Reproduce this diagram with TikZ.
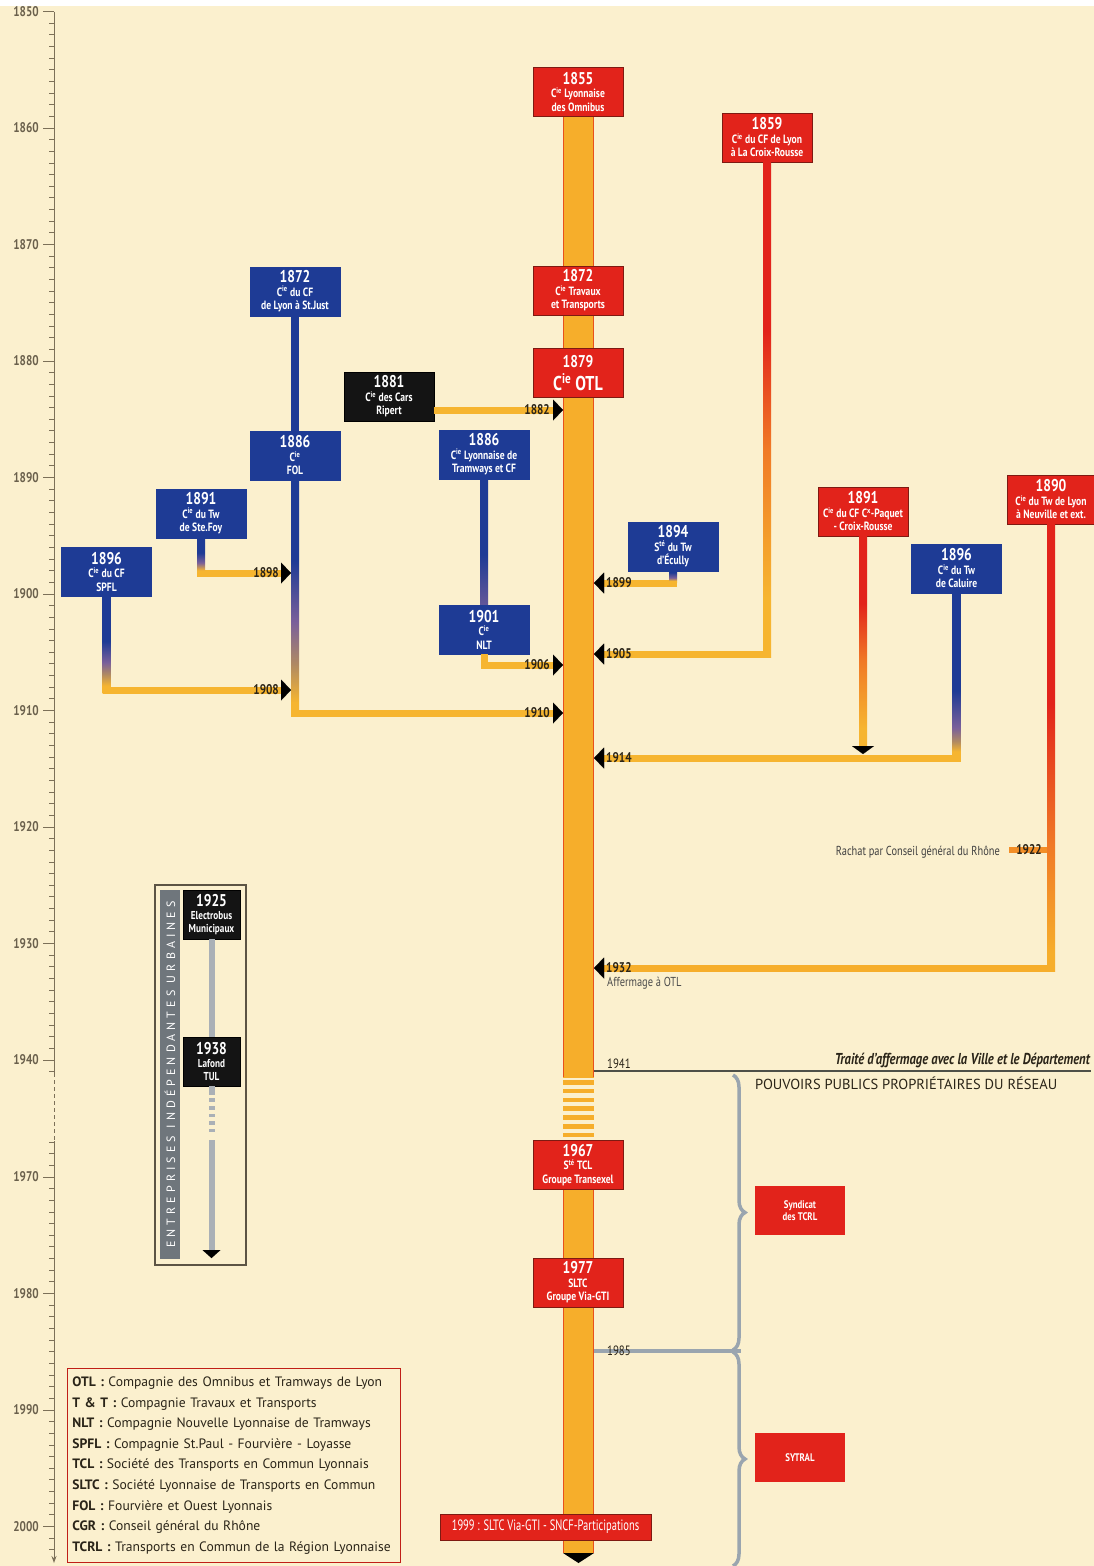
\documentclass[tikz,border=0pt]{standalone}
\usepackage{fontspec}
\setmainfont{PT Sans}[FakeStretch=0.8]
\newfontfamily\legfont{PT Sans}
\newfontfamily\narrowfont{PT Sans}[FakeStretch=0.7]
\usetikzlibrary{arrows.meta,decorations.pathreplacing,calc}
\definecolor{bg}{HTML}{FBF0CE}
\definecolor{cred}{HTML}{E2231B}
\definecolor{credge}{HTML}{7E1A12}
\definecolor{cblue}{HTML}{1E3B95}
\definecolor{cyel}{HTML}{F6B530}
\definecolor{corange}{HTML}{F6AE2B}
\definecolor{cmid}{HTML}{F07A26}
\definecolor{cbarline}{HTML}{E8501C}
\definecolor{cmauve}{HTML}{7A609A}
\definecolor{cbrown}{HTML}{B08A62}
\definecolor{cgray}{HTML}{9AA5AF}
\definecolor{cgrayl}{HTML}{AAB0B6}
\definecolor{cstrip}{HTML}{6F767C}
\definecolor{axisc}{HTML}{7C7058}
\definecolor{axtxt}{HTML}{6A604C}
\definecolor{ink}{HTML}{2A2418}
\definecolor{panelc}{HTML}{5C5444}
\definecolor{rulec}{HTML}{4E5048}
% vertical shadings: path box maps to 25bp (bottom) .. 75bp (top)
\pgfdeclareverticalshading{shfol}{100bp}{color(0bp)=(cyel); color(28bp)=(cyel); color(36bp)=(cbrown); color(45bp)=(cmauve); color(58bp)=(cblue); color(100bp)=(cblue)}
\pgfdeclareverticalshading{shspfl}{100bp}{color(0bp)=(cyel); color(29bp)=(cyel); color(35bp)=(cbrown); color(41bp)=(cmauve); color(52bp)=(cblue); color(100bp)=(cblue)}
\pgfdeclareverticalshading{shcal}{100bp}{color(0bp)=(cyel); color(28bp)=(cyel); color(31bp)=(cbrown); color(35bp)=(cmauve); color(46bp)=(cblue); color(100bp)=(cblue)}
\pgfdeclareverticalshading{shsf}{100bp}{color(0bp)=(cyel); color(33bp)=(cyel); color(43bp)=(cmauve); color(56bp)=(cblue); color(100bp)=(cblue)}
\pgfdeclareverticalshading{shec}{100bp}{color(0bp)=(cyel); color(30bp)=(cyel); color(45bp)=(cmauve); color(70bp)=(cblue); color(100bp)=(cblue)}
\pgfdeclareverticalshading{shcr}{100bp}{color(0bp)=(cyel); color(31bp)=(cyel); color(46bp)=(cmid); color(58bp)=(cred); color(100bp)=(cred)}
\pgfdeclareverticalshading{shcp}{100bp}{color(0bp)=(cyel); color(29bp)=(cyel); color(45bp)=(cmid); color(59bp)=(cred); color(100bp)=(cred)}
\pgfdeclareverticalshading{shne}{100bp}{color(0bp)=(corange); color(27bp)=(corange); color(39bp)=(cmid); color(55bp)=(cred); color(100bp)=(cred)}
\pgfdeclareverticalshading{shnlt}{100bp}{color(0bp)=(cmauve!70!white); color(25bp)=(cmauve!75!cblue); color(45bp)=(cblue); color(100bp)=(cblue)}
\newcommand{\cie}{C\textsuperscript{ie}}
\newcommand{\yr}[1]{{\fontsize{17}{17}\selectfont\bfseries #1}\\}
\begin{document}
\begin{tikzpicture}[x=1pt,y=-1pt,
  box/.style={minimum width=90pt,minimum height=49pt,inner sep=1pt,align=center,text=white,font=\fontsize{12}{13.5}\selectfont\bfseries,line width=0.8pt},
  rbox/.style={box,fill=cred,draw=credge},
  bbox/.style={box,fill=cblue,draw=cblue},
  kbox/.style={box,fill=black!92,draw=black},
  hconn/.style={line width=7pt,cyel},
  tip/.style={-{Triangle[length=10pt,width=21pt,line width=0.01pt,color=black,fill=black]}},
  lbl/.style={font=\fontsize{14}{14}\selectfont\bfseries,text=ink,inner sep=1pt},
  axlbl/.style={font=\fontsize{14}{14}\selectfont\bfseries,text=axtxt,inner sep=0pt},
  axtick/.style={axisc,line width=0.9pt},
]
\fill[white] (0,0) rectangle (1094,1566);
\fill[bg] (0,6) rectangle (1094,1566);
\useasboundingbox (0,0) rectangle (1094,1566);

% ---------- axis ----------
\draw[axisc,line width=1pt] (54,11.5) -- (54,1073);
\draw[axisc,line width=1pt,dash pattern=on 4pt off 3pt] (54,1073) -- (54,1141);
\draw[axisc,line width=1pt,-{Stealth[length=7pt,width=5pt]}] (54,1141) -- (54,1563);
\foreach \a in {1850,...,1941}{\pgfmathsetmacro\yy{11.5+11.65*(\a-1850)}\draw[axtick] (49,\yy) -- (54,\yy);}
\foreach \a in {1967,...,2002}{\pgfmathsetmacro\yy{1177+11.65*(\a-1970)}\draw[axtick] (49,\yy) -- (54,\yy);}
\foreach \a in {1850,1860,...,1940}{\pgfmathsetmacro\yy{11.5+11.65*(\a-1850)}
  \draw[axtick] (43,\yy) -- (54,\yy); \node[axlbl,anchor=east] (ax\a) at (39,\yy) {\a};}
\foreach \a in {1970,1980,1990,2000}{\pgfmathsetmacro\yy{1177+11.65*(\a-1970)}
  \draw[axtick] (43,\yy) -- (54,\yy); \node[axlbl,anchor=east] (ax\a) at (39,\yy) {\a};}

% ---------- main bar ----------
\coordinate (barL) at (563,0);
\coordinate (barR) at (594,0);
\fill[corange] (563,117) rectangle (594,1553);
\draw[cbarline,line width=1pt] (563.5,117) -- (563.5,1077) (593.5,117) -- (593.5,1077);
\draw[cbarline,line width=1pt] (563.5,1141) -- (563.5,1553) (593.5,1141) -- (593.5,1553);
\fill[bg] (562,1078) rectangle (595,1141);
\foreach \k in {0,...,6}{\fill[corange] (563,1080+8.8*\k) rectangle (594,1084.5+8.8*\k);}
\fill[black] (563,1553) -- (594,1553) -- (578.5,1563) -- cycle;

% ---------- boxes ----------
\node[rbox] (b1855) at (578,92) {\yr{1855}\cie{} Lyonnaise\\des Omnibus};
\node[rbox] (b1859) at (767,137.5) {\yr{1859}\cie{} du CF de Lyon\\à La Croix-Rousse};
\node[rbox] (b1872tt) at (578,290.5) {\yr{1872}\cie{} Travaux\\et Transports};
\node[rbox] (b1879) at (578,373) {{\fontsize{17}{17}\selectfont\bfseries 1879}\\[5pt]{\fontsize{20}{21}\selectfont\cie{} OTL}};
\node[bbox] (b1872sj) at (295,291.5) {\yr{1872}\cie{} du CF\\de Lyon à St.Just};
\node[kbox] (b1881) at (389,396.5) {\yr{1881}\cie{} des Cars\\Ripert};
\node[bbox] (b1886fol) at (295,455.5) {\yr{1886}\cie{}\\FOL};
\node[bbox] (b1886cl) at (484,454.5) {\yr{1886}\cie{} Lyonnaise de\\Tramways et CF};
\node[bbox] (b1891sf) at (201,513.5) {\yr{1891}\cie{} du Tw\\de Ste.Foy};
\node[bbox] (b1896sp) at (106.5,572) {\yr{1896}\cie{} du CF\\SPFL};
\node[bbox] (b1894ec) at (673,546.5) {\yr{1894}S\textsuperscript{té} du Tw\\d’Écully};
\node[bbox] (b1901) at (484,629.5) {\yr{1901}\cie{}\\NLT};
\node[rbox] (b1891cp) at (863,511.5) {\yr{1891}\cie{} du CF C\textsuperscript{x}-Paquet\\- Croix-Rousse};
\node[bbox] (b1896ca) at (956.5,568.5) {\yr{1896}\cie{} du Tw\\de Caluire};
\node[rbox,minimum width=88pt] (b1890ne) at (1051,499.5) {\yr{1890}\cie{} du Tw de Lyon\\à Neuville et ext.};
\node[rbox] (b1967) at (578,1165) {\yr{1967}S\textsuperscript{té} TCL\\Groupe Transexel};
\node[rbox] (b1977) at (578,1282.5) {\yr{1977}SLTC\\Groupe Via-GTI};
\node[rbox,minimum width=211pt,minimum height=26pt,font=\narrowfont\fontsize{15}{16}\selectfont] (b1999) at (545.5,1527) {1999 : SLTC Via-GTI - SNCF-Participations};
\node[box,fill=cred,font=\fontsize{11}{12.5}\selectfont\bfseries] (syn) at (800,1210.5) {Syndicat\\des TCRL};
\node[box,fill=cred,font=\fontsize{11}{12.5}\selectfont\bfseries] (sytral) at (800,1457.5) {SYTRAL};

% ---------- connectors, left side ----------
% St.Just -> FOL
\fill[cblue] ($(b1872sj.south)+(-4,0)$) rectangle ($(b1886fol.north)+(4,0)$);
% FOL -> 1910
\coordinate (c1910) at (b1886fol.south |- 0,713);
\shade[shading=shfol] ($(b1886fol.south)+(-4,0)$) rectangle ($(c1910)+(4,3.5)$);
\draw[hconn,tip] ($(c1910)+(4,0)$) -- (barL |- c1910);
% Ste.Foy -> FOL (1898)
\coordinate (c1898) at (b1891sf.south |- 0,573);
\draw[hconn,tip] ($(c1898)+(-3.5,0)$) -- ($(b1886fol.south |- c1898)+(-4,0)$);
\shade[shading=shsf] ($(b1891sf.south)+(-4,0)$) rectangle ($(c1898)+(4,3.5)$);
% SPFL -> FOL (1908)
\coordinate (c1908) at (b1896sp.south |- 0,690);
\draw[hconn,tip] ($(c1908)+(-3.5,0)$) -- ($(b1886fol.south |- c1908)+(-4,0)$);
\shade[shading=shspfl] ($(b1896sp.south)+(-4,0)$) rectangle ($(c1908)+(4,3.5)$);
% Ripert -> bar (1882)
\draw[hconn,tip] (b1881.east |- 0,410) -- (barL |- 0,410);
% CLTCF -> NLT
\shade[shading=shnlt] ($(b1886cl.south)+(-4,0)$) rectangle ($(b1901.north)+(4,0)$);
% NLT -> bar (1906)
\draw[hconn,tip] (b1901.south) |- (barL |- 0,665);

% ---------- connectors, right side ----------
% 1859 -> bar (1905)
\coordinate (c1905) at (b1859.south |- 0,654);
\shade[shading=shcr] ($(b1859.south)+(-4,0)$) rectangle ($(c1905)+(4,3.5)$);
\draw[hconn,tip] ($(c1905)+(4,0)$) -- (barR |- c1905);
% Ecully -> bar (1899)
\coordinate (c1899) at (b1894ec.south |- 0,583);
\draw[hconn,tip] ($(c1899)+(3.5,0)$) -- (barR |- c1899);
\shade[shading=shec] ($(b1894ec.south)+(-4,0)$) rectangle ($(c1899)+(4,-1)$);
% Paquet -> 1914 line
\coordinate (c1914p) at (b1891cp.south |- 0,754);
\shade[shading=shcp] ($(b1891cp.south)+(-4,0)$) rectangle ($(c1914p)+(4,-9)$);
\draw[line width=8pt,cyel,-{Triangle[length=8pt,width=22pt,line width=0.01pt,color=black,fill=black]}] ($(c1914p)+(0,-10)$) -- (c1914p);
% Caluire -> bar (1914)
\coordinate (c1914) at (b1896ca.south |- 0,758);
\draw[hconn,tip] ($(c1914)+(4,0)$) -- (barR |- c1914);
\shade[shading=shcal] ($(b1896ca.south)+(-4,0)$) rectangle ($(c1914)+(4,3.5)$);
% Neuville -> bar (1932)
\coordinate (c1932) at (b1890ne.south |- 0,968);
\coordinate (c1922) at (b1890ne.south |- 0,850);
\shade[shading=shne] ($(b1890ne.south)+(-4,0)$) rectangle ($(c1932)+(4,3.5)$);
\draw[hconn,corange,tip] ($(c1932)+(4,0)$) -- (barR |- c1932);
\draw[line width=6pt,cmid!60!corange] ($(c1922)+(-42,0)$) -- ($(c1922)+(-4,0)$);

% ---------- year labels ----------
\node[lbl,anchor=east] (l1882) at (551,410) {1882};
\node[lbl,anchor=east] (l1906) at (551,665) {1906};
\node[lbl,anchor=east] (l1910) at (551,713) {1910};
\node[lbl,anchor=east] (l1898) at (280,573) {1898};
\node[lbl,anchor=east] (l1908) at (280,690) {1908};
\node[lbl,anchor=west] (l1899) at (605,583) {1899};
\node[lbl,anchor=west] (l1905) at (605,654) {1905};
\node[lbl,anchor=west] (l1914) at (605,758) {1914};
\node[lbl,anchor=west] (l1932) at (605,968) {1932};
\node[anchor=north west,font=\fontsize{13}{13}\selectfont,text=black!70,inner sep=0pt] (aff) at (607,977) {Affermage à OTL};
\node[lbl,anchor=center] (l1922) at ($(c1922)+(-22,0)$) {1922};
\node[anchor=east,font=\fontsize{13}{13}\selectfont,text=black!75,inner sep=0pt] (rachat) at (1000,852) {Rachat par Conseil général du Rhône};

% ---------- 1941 ----------
\draw[rulec,line width=1.1pt] (barR |- 0,1071) -- (1091,1071);
\node[anchor=south west,font=\fontsize{13.5}{14}\selectfont,text=ink,inner sep=1pt] (l1941) at (606,1070) {1941};
\node[anchor=south east,font=\fontsize{15.8}{16}\selectfont\itshape\bfseries,text=ink,inner sep=1pt] (traite) at (1091,1069) {Traité d’affermage avec la Ville et le Département};
\node[anchor=west,font=\legfont\fontsize{14.5}{15}\selectfont,text=ink,inner sep=0pt] (pouv) at (755,1083) {POUVOIRS PUBLICS PROPRIÉTAIRES DU RÉSEAU};

% ---------- 1985 and braces ----------
\draw[cgray,line width=4pt] (barR |- 0,1351) -- (741,1351);
\node[anchor=west,font=\fontsize{13.5}{14}\selectfont,text=ink,inner sep=1pt] (l1985) at (606,1351) {1985};
\draw[cgray,line width=3.5pt,decorate,decoration={brace,amplitude=12pt}] (733,1075) -- (733,1350);
\draw[cgray,line width=3.5pt,decorate,decoration={brace,amplitude=12pt}] (733,1352) -- (733,1566);

% ---------- independent urban companies panel ----------
\draw[panelc,line width=1.2pt] (155,885) rectangle (246,1265);
\fill[cstrip] (160,890) rectangle (180,1259);
\node[rotate=90,text=white,font=\legfont\fontsize{12}{12}\selectfont,inner sep=0pt] (striptxt) at (170,1074.5) {\addfontfeature{LetterSpace=34}ENTREPRISES INDÉPENDANTES URBAINES};
\node[kbox,minimum width=57pt,font=\fontsize{11.5}{13}\selectfont\bfseries] (b1925) at (211.5,914.5) {\yr{1925}Electrobus\\Municipaux};
\node[kbox,minimum width=57pt,font=\fontsize{11.5}{13}\selectfont\bfseries] (b1938) at (211.5,1061.5) {\yr{1938}Lafond\\TUL};
\draw[cgrayl,line width=6pt] (b1925.south) -- (b1938.north);
\coordinate (dashend) at (b1938.south |- 0,1140);
\draw[cgrayl,line width=6pt] (b1938.south) -- ++(0,9);
\foreach \k in {0,...,4}{\fill[cgrayl] ($(b1938.south)+(-3,12+7.6*\k)$) rectangle ($(b1938.south)+(3,15.5+7.6*\k)$);}
\draw[cgrayl,line width=6pt,-{Triangle[length=8pt,width=18pt,line width=0.01pt,color=black,fill=black]}] (dashend) -- (b1938.south |- 0,1258);

% ---------- legend ----------
\node[draw=cred!85!black,line width=0.9pt,anchor=north west,minimum width=333pt,minimum height=194pt,text width=323pt,inner sep=5pt,align=left,font=\legfont\fontsize{13.6}{20.6}\selectfont,text=ink] (legend) at (67,1368) {%
\textbf{OTL :} Compagnie des Omnibus et Tramways de Lyon\\
\textbf{T \& T :} Compagnie Travaux et Transports\\
\textbf{NLT :} Compagnie Nouvelle Lyonnaise de Tramways\\
\textbf{SPFL :} Compagnie St.Paul - Fourvière - Loyasse\\
\textbf{TCL :} Société des Transports en Commun Lyonnais\\
\textbf{SLTC :} Société Lyonnaise de Transports en Commun\\
\textbf{FOL :} Fourvière et Ouest Lyonnais\\
\textbf{CGR :} Conseil général du Rhône\\
\textbf{TCRL :} Transports en Commun de la Région Lyonnaise};
\end{tikzpicture}
\end{document}
